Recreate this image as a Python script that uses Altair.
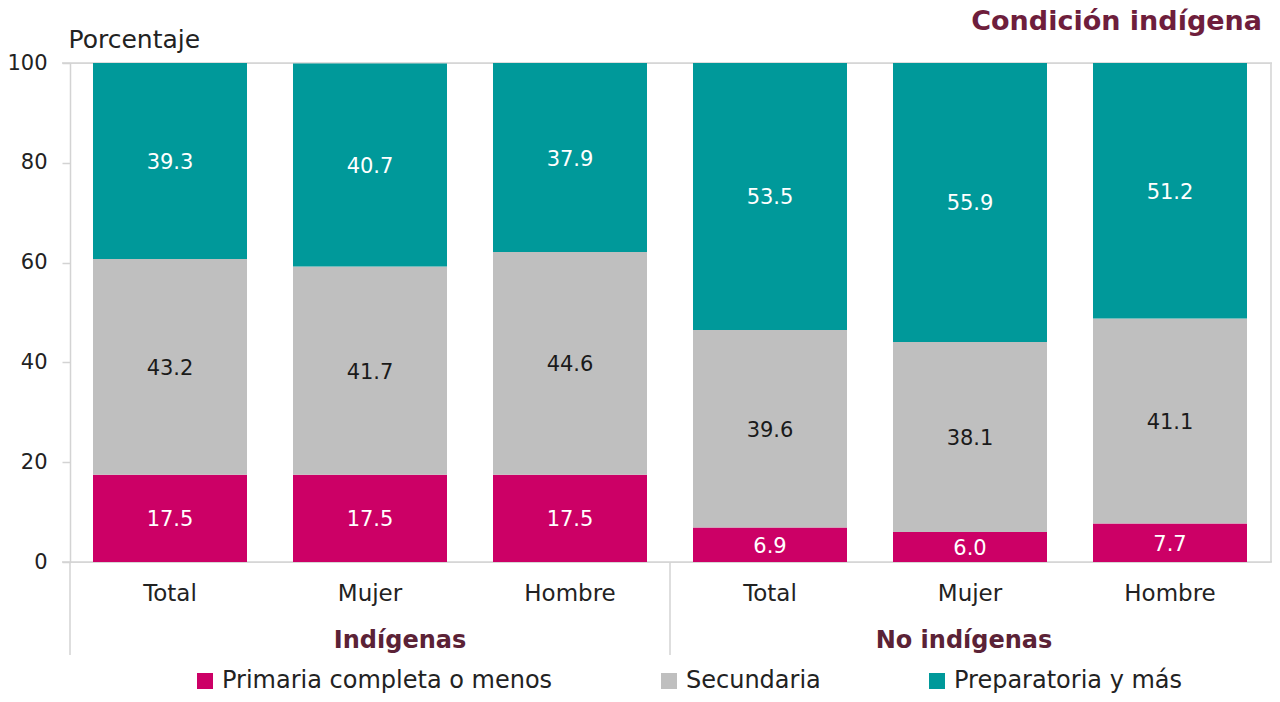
import altair as alt
import pandas as pd

groups = ["Indígenas", "No indígenas"]
sexes = ["Total", "Mujer", "Hombre"]
levels = ["Primaria completa o menos", "Secundaria", "Preparatoria y más"]
primaria = [17.5, 17.5, 17.5, 6.9, 6.0, 7.7]
secundaria = [43.2, 41.7, 44.6, 39.6, 38.1, 41.1]
preparatoria = [39.3, 40.7, 37.9, 53.5, 55.9, 51.2]
colors = ["#CC0066", "#BFBFBF", "#00999A"]
label_colors = ["#FFFFFF", "#1A1A1A", "#FFFFFF"]
y_ticks = [0, 20, 40, 60, 80, 100]
frame_lines = [0, 100]
chart_title = "Condición indígena"

FONT = "DejaVu Sans"
LINE = "#D3D3D3"
W, H = 1200, 499

keys = [f"{g}|{s}" for g in groups for s in sexes]
rows = []
for i, k in enumerate(keys):
    for j, vals in enumerate([primaria, secundaria, preparatoria]):
        rows.append({"key": k, "nivel": levels[j], "orden": j,
                     "valor": vals[i], "label": f"{vals[i]:.1f}"})
df = pd.DataFrame(rows)

xscale = alt.Scale(domain=keys, paddingInner=0.23, paddingOuter=0.115)
yscale = alt.Scale(domain=[0, 100], nice=False)

x_axis = alt.Axis(title=None, labelExpr="split(datum.value, '|')[1]",
                  labelAngle=0, ticks=False, domain=False, labelFontSize=23,
                  labelColor="#222222", labelPadding=20, labelFont=FONT,
                  grid=False)
y_axis = alt.Axis(values=y_ticks, title="Porcentaje", titleAngle=0,
                  titleX=-2, titleY=-16, titleAlign="left",
                  titleBaseline="alphabetic", titleFontWeight="normal",
                  titleFontSize=25, titleColor="#222222", titleFont=FONT,
                  labelFontSize=21, labelColor="#222222", labelPadding=15,
                  labelFont=FONT, ticks=True, tickSize=8, tickColor=LINE,
                  tickWidth=1.5, domain=True, domainColor=LINE,
                  domainWidth=1.5, grid=False)

bars = alt.Chart(df).mark_bar().encode(
    x=alt.X("key:N", scale=xscale, axis=x_axis, sort=keys),
    y=alt.Y("valor:Q", stack="zero", scale=yscale, axis=y_axis),
    color=alt.Color("nivel:N", scale=alt.Scale(domain=levels, range=colors),
                    legend=alt.Legend(title=None, orient="none", legendX=123,
                                      legendY=606, direction="horizontal",
                                      columnPadding=104, symbolType="square",
                                      symbolSize=256, symbolStrokeWidth=0,
                                      labelFontSize=24, labelFont=FONT,
                                      labelColor="#222222", labelOffset=5,
                                      labelLimit=500)),
    order=alt.Order("orden:Q"),
)

labels = alt.Chart(df).transform_stack(
    stack="valor", groupby=["key"], as_=["y0", "y1"],
    sort=[alt.SortField("orden", order="ascending")]
).transform_calculate(
    mid="(datum.y0 + datum.y1) / 2"
).mark_text(fontSize=21, font=FONT, baseline="middle", dy=2).encode(
    x=alt.X("key:N", scale=xscale, sort=keys),
    y=alt.Y("mid:Q", scale=yscale),
    text="label:N",
    color=alt.Color("nivel:N", scale=alt.Scale(domain=levels, range=label_colors),
                    legend=None),
)

frame_df = pd.DataFrame({"valor": frame_lines})
hlines = alt.Chart(frame_df).mark_rule(color=LINE, strokeWidth=1.5).encode(
    y=alt.Y("valor:Q", scale=yscale),
    x=alt.value(-8), x2=alt.value(W + 2),
)

right_border = alt.Chart(frame_df.head(1)).mark_rule(color=LINE, strokeWidth=1.5).encode(
    x=alt.value(W + 2), y=alt.value(0), y2=alt.value(H),
)

sep_df = pd.DataFrame({"key": [keys[0], keys[3]]})
seps = alt.Chart(sep_df).mark_rule(color=LINE, strokeWidth=1.5, xOffset=-23).encode(
    x=alt.X("key:N", scale=xscale, bandPosition=0, sort=keys),
    y=alt.value(H), y2=alt.value(H + 93),
)

g1 = alt.Chart(pd.DataFrame({"key": [keys[1]], "g": [groups[0]]})).mark_text(
    fontSize=24, fontWeight="bold", font=FONT, color="#5B2236",
    baseline="middle", dx=30
).encode(x=alt.X("key:N", scale=xscale, sort=keys),
         y=alt.value(H + 79), text="g:N")
g2 = alt.Chart(pd.DataFrame({"key": [keys[4]], "g": [groups[1]]})).mark_text(
    fontSize=24, fontWeight="bold", font=FONT, color="#5B2236",
    baseline="middle", dx=-6
).encode(x=alt.X("key:N", scale=xscale, sort=keys),
         y=alt.value(H + 79), text="g:N")

title = alt.Chart(pd.DataFrame({"t": [chart_title]})).mark_text(
    fontSize=27, fontWeight="bold", font=FONT, color="#6E1E3C",
    align="right", baseline="alphabetic"
).encode(x=alt.value(W - 8), y=alt.value(-33), text="t:N")

chart = alt.layer(hlines, right_border, bars, labels, seps, g1, g2, title).resolve_scale(
    color="independent"
).properties(
    width=W, height=H,
    autosize=alt.AutoSizeParams(type="none"),
    padding={"left": 62, "top": 55, "right": 2, "bottom": 132},
).configure_view(stroke=None).configure(background="white")

chart.save("out.html", embed_options={"renderer": "svg", "actions": False})
